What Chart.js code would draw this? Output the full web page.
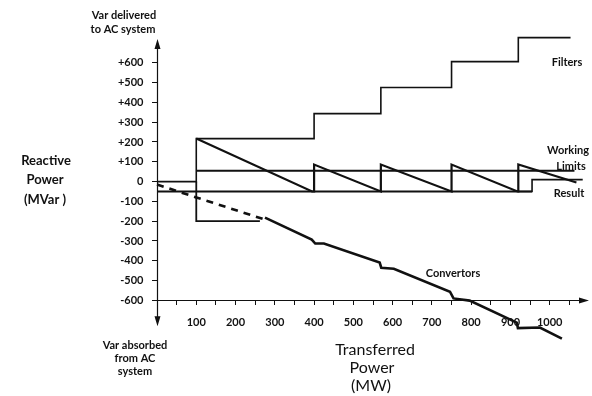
<!DOCTYPE html>
<html>
<head>
<meta charset="utf-8">
<script src="https://cdn.jsdelivr.net/npm/chart.js@4/dist/chart.umd.min.js"></script>
<style>
  html, body { margin: 0; padding: 0; background: #fff; }
  #wrap { width: 592px; height: 396px; }
</style>
</head>
<body>
<div id="wrap"><canvas id="chart" width="592" height="396"></canvas></div>
<script>
// Filters switched in steps (MW -> MVar)
const filterMW   = [0, 100, 100, 400, 400, 570, 570, 750, 750, 920, 920, 1053];
const filterMVar = [0, 0, 217, 217, 343, 343, 475, 475, 606, 606, 727, 727];

// Result (sawtooth between the working limits)
const resultMW   = [100, 395, 400, 400, 570, 570, 750, 750, 918, 920, 920, 1068];
const resultMVar = [217, -50, -50, 86, -50, 86, -50, 86, -50, -50, 86, -5];
const resultTailMW   = [920, 955, 955, 1084];
const resultTailMVar = [-50, -50, 10, 10];

// Working limits
const upperLimitMW   = [100, 1063];
const upperLimitMVar = [55, 55];
const lowerLimitMW   = [0, 955];
const lowerLimitMVar = [-50, -50];
const boxMW   = [100, 100, 262];
const boxMVar = [0, -200, -200];

// Convertors (dashed at low power, then solid)
const convDashMW   = [0, 100, 280];
const convDashMVar = [-15, -80, -195];
const convMW   = [275, 394, 403, 425, 567, 571, 603, 746, 755, 796, 916, 919, 975, 1031];
const convMVar = [-182, -293, -313, -313, -409, -435, -440, -556, -590, -601, -712, -740, -737, -793];

// Axis ticks
const xTickValues = [50, 100, 150, 200, 250, 300, 350, 400, 450, 500, 550, 600, 650, 700, 750, 800, 850, 900, 950, 1000, 1050];
const xTickLabels = ['', '100', '', '200', '', '300', '', '400', '', '500', '', '600', '', '700', '', '800', '', '900', '', '1000', ''];
const yTickValues = [-600, -500, -400, -300, -200, -100, 0, 100, 200, 300, 400, 500, 600];
const yTickLabels = ['-600', '-500', '-400', '-300', '-200', '-100', '0', '+100', '+200', '+300', '+400', '+500', '+600'];

const INK = '#111';
const FONT = 'Lato, "DejaVu Sans", sans-serif';

function pts(xs, ys) {
    return xs.map(function(x, i) { return { x: x, y: ys[i] }; });
}

function series(xs, ys, width, dash) {
    return {
        data: pts(xs, ys),
        borderColor: INK,
        borderWidth: width,
        borderDash: dash || [],
        pointRadius: 0,
        fill: false,
        clip: false
    };
}

// axis lines with arrow heads + y tick labels, drawn from the scales
const axisLines = {
    id: 'axisLines',
    afterDraw: function(chart) {
        const ctx = chart.ctx, sx = chart.scales.x, sy = chart.scales.y;
        const x0 = Math.round(sx.getPixelForValue(0)) + 0.5;
        const yAxis = Math.round(sy.getPixelForValue(-600)) + 0.5;
        const yTop = sy.getPixelForValue(720), yBot = sy.getPixelForValue(-730);
        const xEnd = sx.getPixelForValue(1100);
        ctx.save();
        ctx.strokeStyle = INK;
        ctx.fillStyle = INK;
        ctx.lineWidth = 1.2;
        ctx.beginPath();
        ctx.moveTo(x0, yTop + 4); ctx.lineTo(x0, yBot - 4);
        ctx.moveTo(x0, yAxis); ctx.lineTo(xEnd - 4, yAxis);
        ctx.stroke();
        ctx.beginPath();
        ctx.moveTo(x0, yTop); ctx.lineTo(x0 - 3, yTop + 10); ctx.lineTo(x0 + 3, yTop + 10); ctx.closePath();
        ctx.moveTo(x0, yBot); ctx.lineTo(x0 - 3, yBot - 10); ctx.lineTo(x0 + 3, yBot - 10); ctx.closePath();
        ctx.moveTo(xEnd, yAxis); ctx.lineTo(xEnd - 10, yAxis - 3); ctx.lineTo(xEnd - 10, yAxis + 3); ctx.closePath();
        ctx.fill();

        // y tick labels sit left of the tick marks
        ctx.font = 'bold 11px ' + FONT;
        ctx.textAlign = 'right';
        ctx.textBaseline = 'middle';
        yTickValues.forEach(function(v, i) {
            ctx.fillText(yTickLabels[i], x0 - 14, sy.getPixelForValue(v));
        });
        ctx.restore();
    }
};

// free text around the plot
const texts = [
    { t: 'Var delivered', x: 124, y: 15, f: 'bold 11px' },
    { t: 'to AC system', x: 123, y: 29, f: 'bold 11px' },
    { t: 'Reactive', x: 46, y: 161, f: 'bold 13px' },
    { t: 'Power', x: 45, y: 180, f: 'bold 13px' },
    { t: '(MVar )', x: 45, y: 200, f: 'bold 13px' },
    { t: 'Var absorbed', x: 135, y: 345, f: 'bold 11px' },
    { t: 'from AC', x: 135, y: 358, f: 'bold 11px' },
    { t: 'system', x: 135, y: 371, f: 'bold 11px' },
    { t: 'Transferred', x: 375, y: 350, f: '16px' },
    { t: 'Power', x: 372, y: 368, f: '16px' },
    { t: '(MW)', x: 371, y: 386, f: '16px' },
    { t: 'Filters', x: 567, y: 62, f: 'bold 11px' },
    { t: 'Working', x: 568, y: 150, f: 'bold 11px' },
    { t: 'Limits', x: 571, y: 166, f: 'bold 11px' },
    { t: 'Result', x: 569, y: 193, f: 'bold 11px' },
    { t: 'Convertors', x: 453, y: 273, f: 'bold 11px' }
];

const textLabels = {
    id: 'textLabels',
    afterDraw: function(chart) {
        const ctx = chart.ctx;
        ctx.save();
        ctx.fillStyle = INK;
        ctx.textAlign = 'center';
        ctx.textBaseline = 'middle';
        texts.forEach(function(l) {
            ctx.font = l.f + ' ' + FONT;
            ctx.fillText(l.t, l.x, l.y);
        });
        ctx.restore();
    }
};

new Chart(document.getElementById('chart'), {
    type: 'line',
    data: {
        datasets: [
            series(filterMW, filterMVar, 1.6),
            series(resultMW, resultMVar, 2.2),
            series(resultTailMW, resultTailMVar, 1.6),
            series(upperLimitMW, upperLimitMVar, 2),
            series(lowerLimitMW, lowerLimitMVar, 2),
            series(boxMW, boxMVar, 1.8),
            series(convDashMW, convDashMVar, 2.6, [7, 6]),
            series(convMW, convMVar, 2.6)
        ]
    },
    options: {
        responsive: false,
        animation: false,
        devicePixelRatio: 1,
        layout: { padding: { left: 157, right: 3, top: 39, bottom: 56 } },
        plugins: { legend: { display: false }, tooltip: { enabled: false } },
        elements: { line: { tension: 0, borderJoinStyle: 'miter' } },
        scales: {
            x: {
                type: 'linear', min: 0, max: 1100,
                position: { y: -600 },
                afterBuildTicks: function(axis) {
                    axis.ticks = xTickValues.map(function(v) { return { value: v }; });
                },
                ticks: {
                    autoSkip: false, maxRotation: 0, padding: 10, color: INK,
                    font: { family: FONT, size: 11, weight: 'bold' },
                    callback: function(v) { return xTickLabels[xTickValues.indexOf(v)] || ''; }
                },
                grid: { display: true, drawOnChartArea: false, drawTicks: true, tickLength: 5, tickColor: INK, tickWidth: 1 },
                border: { display: false }
            },
            y: {
                type: 'linear', min: -800, max: 720,
                position: { x: 0 },
                afterBuildTicks: function(axis) {
                    axis.ticks = yTickValues.map(function(v) { return { value: v }; });
                },
                ticks: {
                    autoSkip: false, color: 'rgba(0,0,0,0)',
                    font: { family: FONT, size: 11, weight: 'bold' },
                    callback: function(v) { return ''; }
                },
                grid: { display: true, drawOnChartArea: false, drawTicks: true, tickLength: 5, tickColor: INK, tickWidth: 1 },
                border: { display: false }
            }
        }
    },
    plugins: [axisLines, textLabels]
});
</script>
</body>
</html>
